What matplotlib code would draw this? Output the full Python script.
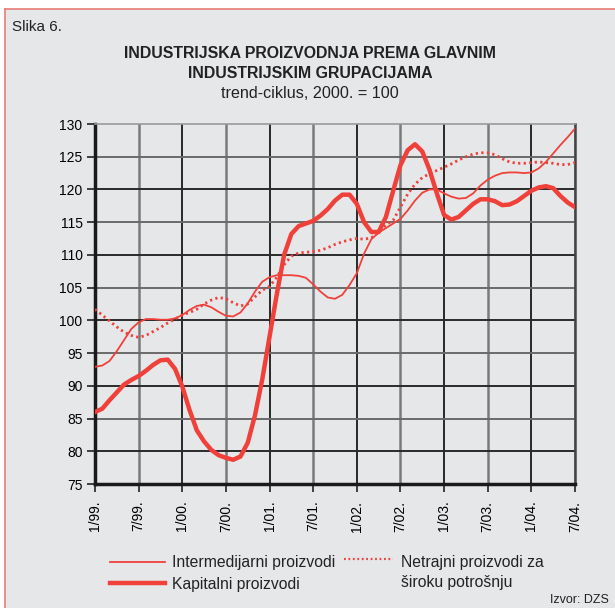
#!/usr/bin/env python3
import matplotlib
matplotlib.use('Agg')
import matplotlib.pyplot as plt
from matplotlib.patches import Rectangle
from matplotlib.lines import Line2D

plt.rcParams['font.family'] = ['Liberation Sans', 'DejaVu Sans']

# monthly trend-cycle, 2000 = 100, from 1/99 to 7/04
months = list(range(67))
tick_labels = ['1/99.', '7/99.', '1/00.', '7/00.', '1/01.', '7/01.',
               '1/02.', '7/02.', '1/03.', '7/03.', '1/04.', '7/04.']

intermedijarni = [92.9, 93.1, 93.8, 95.3, 97.0, 98.7, 99.7, 100.2, 100.2, 100.1,
                  100.1, 100.3, 100.8, 101.6, 102.2, 102.4, 102.0, 101.3, 100.7, 100.6,
                  101.2, 102.6, 104.4, 105.9, 106.6, 106.9, 106.9, 106.9, 106.8, 106.5,
                  105.5, 104.4, 103.5, 103.3, 103.9, 105.4, 107.2, 110.2, 112.4, 113.4,
                  114.1, 114.8, 115.5, 116.8, 118.3, 119.5, 120.0, 120.0, 119.4, 118.9,
                  118.6, 118.7, 119.4, 120.6, 121.5, 122.1, 122.5, 122.6, 122.6, 122.5,
                  122.6, 123.2, 124.2, 125.5, 126.8, 128.0, 129.3]

kapitalni = [86.0, 86.5, 87.8, 89.0, 90.2, 90.9, 91.5, 92.3, 93.2, 93.9,
             94.0, 92.6, 89.9, 86.3, 83.2, 81.5, 80.2, 79.4, 79.0, 78.7,
             79.2, 81.3, 85.5, 91.0, 97.5, 104.0, 110.0, 113.2, 114.4, 114.8,
             115.2, 116.0, 117.0, 118.3, 119.2, 119.2, 117.8, 115.0, 113.5, 113.5,
             115.8, 119.8, 123.7, 126.0, 126.9, 125.8, 123.0, 119.4, 116.1, 115.4,
             115.8, 116.8, 117.8, 118.5, 118.5, 118.2, 117.6, 117.7, 118.2, 119.0,
             119.8, 120.3, 120.5, 120.2, 119.0, 118.0, 117.3]

netrajni = [101.7, 100.8, 99.9, 99.0, 98.2, 97.7, 97.4, 97.7, 98.3, 98.9,
            99.6, 100.2, 100.8, 101.2, 101.7, 102.5, 103.1, 103.5, 103.3, 102.7,
            102.2, 102.5, 103.6, 104.6, 105.2, 106.6, 108.5, 109.8, 110.3, 110.4,
            110.5, 110.7, 111.1, 111.6, 112.0, 112.3, 112.5, 112.4, 112.6, 113.5,
            114.6, 115.3, 117.3, 119.3, 120.8, 121.8, 122.4, 122.9, 123.4, 123.9,
            124.5, 125.0, 125.4, 125.6, 125.6, 125.3, 124.7, 124.2, 124.0, 124.0,
            124.1, 124.2, 124.1, 124.0, 123.8, 123.8, 124.1]

red = '#f0403a'
bg = '#e6e7e9'

fig = plt.figure(figsize=(6.15, 6.08), dpi=100, facecolor='white')
# panel background with red frame on left and top only
fig.add_artist(Rectangle((5 / 615, 0), 1.0, 1 - 9 / 608, transform=fig.transFigure,
                         facecolor=bg, edgecolor='none', zorder=-10))
fig.add_artist(Line2D([5 / 615, 5 / 615], [0, 1 - 9 / 608], color='#ea7b76', lw=1.2))
fig.add_artist(Line2D([5 / 615, 1], [1 - 9 / 608, 1 - 9 / 608], color='#ea7b76', lw=1.2))

ax = fig.add_axes([95 / 615, 124 / 608, 480 / 615, 360 / 608])
ax.set_facecolor(bg)

ax.plot(months, netrajni, color=red, lw=2.0, linestyle=(0, (0.8, 1.2)), zorder=3)
ax.plot(months, intermedijarni, color=red, lw=1.3, zorder=3)
ax.plot(months, kapitalni, color=red, lw=3.2, zorder=4)

ax.set_xlim(0, 66)
ax.set_ylim(75, 130)
xt = list(range(0, 67, 6))
ax.set_xticks(xt)
ax.set_xticklabels(tick_labels, rotation=90, fontsize=10)
ax.set_yticks(range(75, 131, 5))
ax.tick_params(axis='y', labelsize=10, length=6, width=1.2, color='#222', pad=3)
ax.tick_params(axis='x', length=6, width=1.2, color='#222', pad=6)

for i, x in enumerate(xt):
    c = '#1a1a1a' if i % 2 == 0 else '#7a7a7a'
    ax.axvline(x, color=c, lw=1.3 if i % 2 == 0 else 1.8, zorder=1)
for j, y in enumerate(range(80, 130, 5)):
    c = '#2a2a2a' if j % 2 == 0 else '#6a6a6a'
    ax.axhline(y, color=c, lw=1.4, zorder=1)

ax.spines['left'].set_linewidth(2.5)
ax.spines['left'].set_color('#1a1a1a')
ax.spines['bottom'].set_linewidth(2.5)
ax.spines['bottom'].set_color('#1a1a1a')
ax.spines['right'].set_linewidth(1.8)
ax.spines['right'].set_color('#444')
ax.spines['top'].set_linewidth(1.2)
ax.spines['top'].set_color('#999')

# titles
fig.text(12 / 615, 1 - 27 / 608, 'Slika 6.', fontsize=11, color='#222', va='center')
fig.text(310 / 615, 1 - 53 / 608, 'INDUSTRIJSKA PROIZVODNJA PREMA GLAVNIM',
         fontsize=11.4, fontweight='bold', ha='center', va='center', color='#222')
fig.text(310 / 615, 1 - 73 / 608, 'INDUSTRIJSKIM GRUPACIJAMA',
         fontsize=11.4, fontweight='bold', ha='center', va='center', color='#222')
fig.text(310 / 615, 1 - 93 / 608, 'trend-ciklus, 2000. = 100',
         fontsize=11.6, ha='center', va='center', color='#222')

# legend drawn by hand
def legend_entry(x0, x1, y, **kw):
    fig.add_artist(Line2D([x0 / 615, x1 / 615], [1 - y / 608, 1 - y / 608], color=red, **kw))

legend_entry(110, 165, 562, lw=1.3)
legend_entry(110, 165, 583, lw=3.2)
legend_entry(344, 393, 559, lw=1.6, linestyle=(0, (0.8, 1.2)))
fig.text(172 / 615, 1 - 563 / 608, 'Intermedijarni proizvodi', fontsize=11.3, va='center', color='#222')
fig.text(172 / 615, 1 - 585 / 608, 'Kapitalni proizvodi', fontsize=11.3, va='center', color='#222')
fig.text(401 / 615, 1 - 562 / 608, 'Netrajni proizvodi za', fontsize=11.3, va='center', color='#222')
fig.text(401 / 615, 1 - 583 / 608, 'široku potrošnju', fontsize=11.3, va='center', color='#222')
fig.text(609 / 615, 1 - 600 / 608, 'Izvor: DZS', fontsize=9, ha='right', va='center', color='#222')

fig.savefig('out.png', dpi=100, facecolor='white')
